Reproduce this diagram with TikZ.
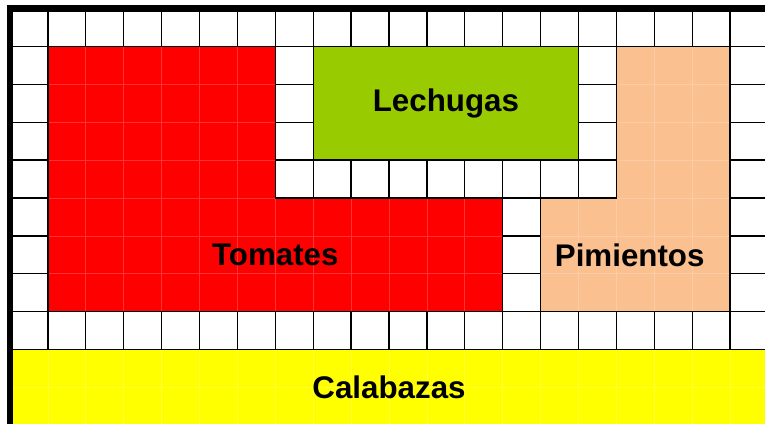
\documentclass[tikz,border=0pt]{standalone}
\usepackage{fontspec}
\setmainfont{Liberation Sans}
\definecolor{tomate}{HTML}{FF0000}
\definecolor{lechuga}{HTML}{99CC00}
\definecolor{pimiento}{HTML}{FAC090}
\definecolor{calabaza}{HTML}{FFFF00}
\begin{document}
\begin{tikzpicture}[
    rotulo/.style={font=\bfseries\fontsize{23.5}{28}\selectfont},
    surco/.style={white, opacity=0.2, line width=0.5pt},
    linde/.style={draw=black, line width=1pt}
  ]
  \useasboundingbox (-0.264,0.063) rectangle (19.92,11.224);
  \clip (-0.264,0.063) rectangle (19.92,11.224);

  % cuadrícula del huerto
  \draw[line width=1pt] (0,0) grid (20,11);

  % tomates
  \fill[tomate] (1,10) -- (7,10) -- (7,6) -- (13,6) -- (13,3) -- (1,3) -- cycle;
  \begin{scope}
    \clip (1,10) -- (7,10) -- (7,6) -- (13,6) -- (13,3) -- (1,3) -- cycle;
    \draw[surco] (0,0) grid (20,11);
  \end{scope}
  \draw[linde] (1,10) -- (7,10) -- (7,6) -- (13,6) -- (13,3) -- (1,3) -- cycle;

  % lechugas
  \fill[lechuga] (8,7) rectangle (15,10);
  \draw[linde] (8,7) rectangle (15,10);

  % pimientos
  \fill[pimiento] (16,10) -- (19,10) -- (19,3) -- (14,3) -- (14,6) -- (16,6) -- cycle;
  \begin{scope}
    \clip (16,10) -- (19,10) -- (19,3) -- (14,3) -- (14,6) -- (16,6) -- cycle;
    \draw[surco] (0,0) grid (20,11);
  \end{scope}
  \draw[linde] (16,10) -- (19,10) -- (19,3) -- (14,3) -- (14,6) -- (16,6) -- cycle;

  % calabazas
  \fill[calabaza] (0,0) rectangle (20,2);
  \begin{scope}
    \clip (0,0) rectangle (20,2);
    \draw[surco] (0,0) grid (20,11);
  \end{scope}
  \draw[linde] (0,2) -- (20,2);

  % borde
  \draw[line width=5pt] (0,0) -- (0,11) -- (20,11);

  % rótulos
  \node[rotulo] (lechugas) at (11.5,8.5) {Lechugas};
  \node[rotulo] (tomates) at (7,4.5) {Tomates};
  \node[rotulo] (pimientos) at (16.35,4.5) {Pimientos};
  \node[rotulo] (calabazas) at (10,1) {Calabazas};
\end{tikzpicture}
\end{document}
